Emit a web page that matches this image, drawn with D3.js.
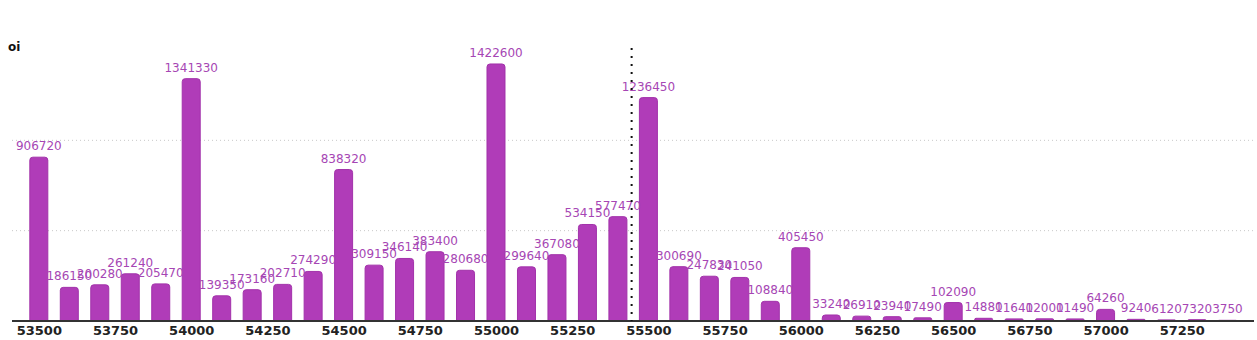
<!DOCTYPE html>
<html>
<head>
<meta charset="utf-8">
<script src="https://cdn.jsdelivr.net/npm/d3@7"></script>
<style>
  html, body { margin: 0; padding: 0; background: #fff; }
  svg { display: block; font-family: "DejaVu Sans", sans-serif; }
</style>
</head>
<body>
<svg id="chart" width="1257" height="340"></svg>
<script>
// Strike prices and open interest per strike
const strikes = [53500, 53600, 53700, 53800, 53900, 54000, 54100, 54200, 54300, 54400,
                 54500, 54600, 54700, 54800, 54900, 55000, 55100, 55200, 55300, 55400,
                 55500, 55600, 55700, 55800, 55900, 56000, 56100, 56200, 56300, 56400,
                 56500, 56600, 56700, 56800, 56900, 57000, 57100, 57200, 57300, 57400];
const oi = [906720, 186150, 200280, 261240, 205470, 1341330, 139350, 173160, 202710, 274290,
            838320, 309150, 346140, 383400, 280680, 1422600, 299640, 367080, 534150, 577470,
            1236450, 300690, 247830, 241050, 108840, 405450, 33240, 26910, 23940, 17490,
            102090, 14880, 11640, 12000, 11490, 64260, 9240, 6120, 7320, 3750];
const xTicks = [53500, 53750, 54000, 54250, 54500, 54750, 55000, 55250, 55500, 55750,
                56000, 56250, 56500, 56750, 57000, 57250];
const gridValues = [500000, 1000000];
const spotPrice = 55445;

const svg = d3.select("#chart");
const left = 12, right = 1254, baseY = 321, topY = 50;
const barW = 18;
const barColor = "#b03cb8";
const labelColor = "#a646b4";

const x = d3.scaleLinear().domain([53412, 57487]).range([left, right]);
const y = d3.scaleLinear().domain([0, 1500000]).range([baseY, topY]);

// dotted horizontal gridlines
svg.append("g").selectAll("line").data(gridValues).join("line")
  .attr("x1", left).attr("x2", right)
  .attr("y1", d => y(d)).attr("y2", d => y(d))
  .attr("stroke", "#c8c8c8").attr("stroke-width", 1)
  .attr("stroke-dasharray", "1,3");

// bars with rounded tops
const barPath = (d, i) => {
  const cx = x(strikes[i]);
  const x0 = cx - barW / 2, x1 = cx + barW / 2;
  const top = y(d);
  const h = baseY - top;
  const r = Math.min(3, h / 2, barW / 2);
  return `M${x0},${baseY}V${top + r}Q${x0},${top} ${x0 + r},${top}H${x1 - r}Q${x1},${top} ${x1},${top + r}V${baseY}Z`;
};
svg.append("g").selectAll("path").data(oi).join("path")
  .attr("d", barPath)
  .attr("fill", barColor)
  .attr("stroke", "#a232aa")
  .attr("stroke-width", 1)
  .attr("stroke-linejoin", "round");

// value labels
svg.append("g").selectAll("text").data(oi).join("text")
  .attr("x", (d, i) => x(strikes[i]))
  .attr("y", d => y(d) - 7)
  .attr("text-anchor", "middle")
  .attr("font-size", 12)
  .attr("fill", labelColor)
  .text(d => d);

// x axis
const axis = svg.append("g").attr("transform", `translate(0,${baseY})`)
  .call(d3.axisBottom(x).tickValues(xTicks).tickSize(0).tickPadding(5).tickFormat(d3.format("d")));
axis.select(".domain").attr("stroke", "#333").attr("stroke-width", 2).attr("d", `M${left},0H${right}`);
axis.selectAll("text").attr("font-size", 13).attr("font-weight", "bold")
  .attr("fill", "#222").attr("font-family", "DejaVu Sans, sans-serif");

// spot marker
svg.append("line")
  .attr("x1", x(spotPrice)).attr("x2", x(spotPrice))
  .attr("y1", 48).attr("y2", baseY)
  .attr("stroke", "#111").attr("stroke-width", 2)
  .attr("stroke-dasharray", "2,6");

// series title
svg.append("text").attr("x", 8).attr("y", 51)
  .attr("font-size", 12).attr("font-weight", "bold").attr("fill", "#111")
  .text("oi");
</script>
</body>
</html>
